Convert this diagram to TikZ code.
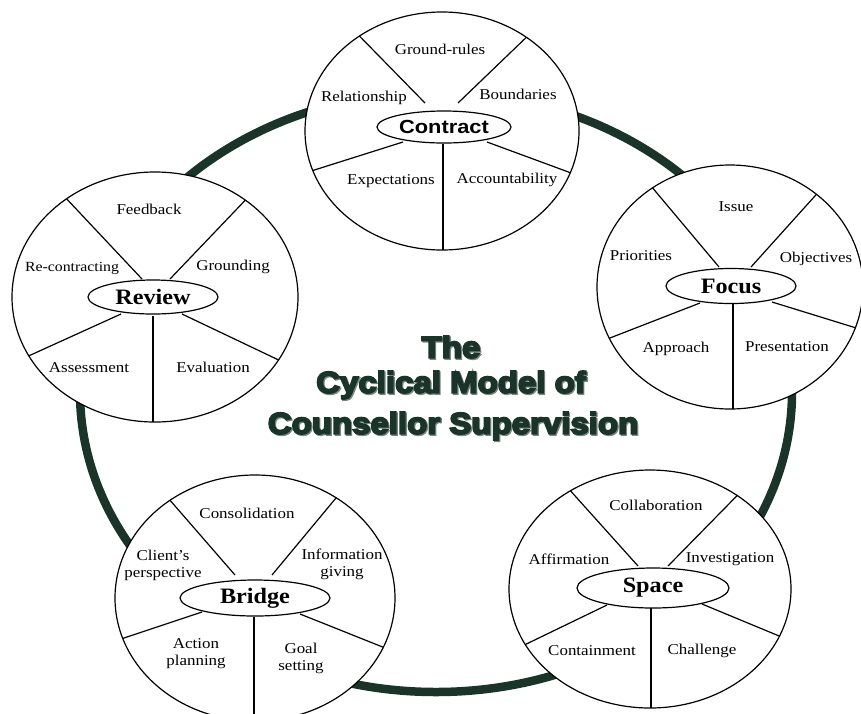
\documentclass[tikz,border=0pt]{standalone}
\usepackage{fontspec}
\setmainfont{Liberation Serif}[FakeStretch=1.13]
\newfontfamily\boldlab{Liberation Serif}[FakeStretch=1.1]
\newfontfamily\sanslab{Liberation Sans}[FakeStretch=1.15]
\newfontfamily\titlemain{Liberation Sans}[FakeStretch=1.1,FakeBold=6]
\usetikzlibrary{shapes.geometric}
\definecolor{ringgreen}{RGB}{27,52,42}
\definecolor{halo}{RGB}{120,135,128}
\begin{document}
\begin{tikzpicture}[x=1pt,y=-1pt,
  wheel/.style={ellipse, draw=black, fill=white, line width=1.2pt, inner sep=0pt, outer sep=0pt},
  hub/.style={ellipse, draw=black, fill=white, line width=1.2pt, inner sep=0pt, outer sep=0pt},
  spoke/.style={line width=1.2pt},
  part/.style={font=\fontsize{15}{17}\selectfont, align=center, inner sep=0pt},
  hubtxt/.style={font=\boldlab\bfseries\fontsize{22}{24}\selectfont, inner sep=0pt},
  ttlhalo/.style={font=\titlemain\bfseries\fontsize{30}{32}\selectfont, text=halo, inner sep=0pt},
  ttlmain/.style={font=\titlemain\bfseries\fontsize{30}{32}\selectfont, text=ringgreen, inner sep=0pt}
]
\useasboundingbox (0,0) rectangle (861,713);
\clip (0,0) rectangle (861,713);

% cycle ring
\draw[ringgreen, line width=8.5pt] (436,392) ellipse [x radius=356pt, y radius=300pt];

% ---------------- Contract ----------------
\node[wheel, minimum width=274pt, minimum height=238pt] (cW) at (442,131) {};
\coordinate (c1) at (425,103);
\coordinate (c2) at (458,103);
\coordinate (c3) at (403,142);
\coordinate (c4) at (487,142);
\coordinate (c5) at (443,144);
\draw[spoke] (c1) -- (cW.131);
\draw[spoke] (c2) -- (cW.48);
\draw[spoke] (c3) -- (cW.197);
\draw[spoke] (c4) -- (cW.342);
\draw[spoke] (c5) -- (c5 |- cW.south);
\node[hub, minimum width=134pt, minimum height=32pt] (cH) at (444,127) {};
\node[inner sep=0pt, font=\sanslab\bfseries\fontsize{19}{21}\selectfont] (cT) at (444,127) {Contract};
\node[part] (cL1) at (440,49) {Ground-rules};
\node[part] (cL2) at (364,98) {Relationship};
\node[part] (cL3) at (518,94) {Boundaries};
\node[part] (cL4) at (391,181) {Expectations};
\node[part] (cL5) at (507,180) {Accountability};

% ---------------- Focus ----------------
\node[wheel, minimum width=266pt, minimum height=244pt] (fW) at (730,287) {};
\coordinate (f1) at (719,267);
\coordinate (f2) at (751,267);
\coordinate (f3) at (700,303);
\coordinate (f4) at (772,302);
\coordinate (f5) at (733,304);
\draw[spoke] (f1) -- (fW.128);
\draw[spoke] (f2) -- (fW.47);
\draw[spoke] (f3) -- (fW.203);
\draw[spoke] (f4) -- (fW.342);
\draw[spoke] (f5) -- (f5 |- fW.south);
\node[hub, minimum width=130pt, minimum height=35pt] (fH) at (731,286) {};
\node[hubtxt] (fT) at (731,286) {Focus};
\node[part] (fL1) at (736,207) {Issue};
\node[part] (fL2) at (641,256) {Priorities};
\node[part] (fL3) at (816,259) {Objectives};
\node[part] (fL4) at (676,349) {Approach};
\node[part] (fL5) at (787,347) {Presentation};

% ---------------- Review ----------------
\node[wheel, minimum width=286pt, minimum height=250pt] (rW) at (155,297) {};
\coordinate (r1) at (142,279);
\coordinate (r2) at (170,279);
\coordinate (r3) at (121,314);
\coordinate (r4) at (182,314);
\coordinate (r5) at (153,316);
\draw[spoke] (r1) -- (rW.132);
\draw[spoke] (r2) -- (rW.47);
\draw[spoke] (r3) -- (rW.205);
\draw[spoke] (r4) -- (rW.333);
\draw[spoke] (r5) -- (r5 |- rW.south);
\node[hub, minimum width=130pt, minimum height=34pt] (rH) at (153,297) {};
\node[hubtxt] (rT) at (153,297) {Review};
\node[part] (rL1) at (149,209) {Feedback};
\node[part, font=\fontsize{14}{16}\selectfont] (rL2) at (72,268) {Re-contracting};
\node[part] (rL3) at (233,267) {Grounding};
\node[part] (rL4) at (89,368) {Assessment};
\node[part] (rL5) at (213,367) {Evaluation};

% ---------------- Bridge ----------------
\node[wheel, minimum width=280pt, minimum height=246pt] (bW) at (255,598) {};
\coordinate (b1) at (235,575);
\coordinate (b2) at (272,575);
\coordinate (b3) at (202,612);
\coordinate (b4) at (300,614);
\coordinate (b5) at (254,617);
\draw[spoke] (b1) -- (bW.131);
\draw[spoke] (b2) -- (bW.51);
\draw[spoke] (b3) -- (bW.197);
\draw[spoke] (b4) -- (bW.339);
\draw[spoke] (b5) -- (b5 |- bW.south);
\node[hub, minimum width=150pt, minimum height=36pt] (bH) at (255,598) {};
\node[hubtxt] (bT) at (255,598) {Bridge};
\node[part] (bL1) at (247,513) {Consolidation};
\node[part] (bL2) at (163,565) {Client’s\\perspective};
\node[part] (bL3) at (342,564) {Information\\giving};
\node[part] (bL4) at (196,654) {Action\\planning};
\node[part] (bL5) at (301,658) {Goal\\setting};

% ---------------- Space ----------------
\node[wheel, minimum width=282pt, minimum height=238pt] (sW) at (650,589) {};
\coordinate (s1) at (638,566);
\coordinate (s2) at (668,566);
\coordinate (s3) at (607,605);
\coordinate (s4) at (702,604);
\coordinate (s5) at (651,608);
\draw[spoke] (s1) -- (sW.129);
\draw[spoke] (s2) -- (sW.47);
\draw[spoke] (s3) -- (sW.204);
\draw[spoke] (s4) -- (sW.340);
\draw[spoke] (s5) -- (s5 |- sW.south);
\node[hub, minimum width=152pt, minimum height=40pt] (sH) at (653,588) {};
\node[hubtxt] (sT) at (653,588) {Space};
\node[part] (sL1) at (656,505) {Collaboration};
\node[part] (sL2) at (569,559) {Affirmation};
\node[part] (sL3) at (730,559) {Investigation};
\node[part] (sL4) at (592,651) {Containment};
\node[part] (sL5) at (702,651) {Challenge};

% ---------------- Title ----------------
\node[ttlhalo] (t1h) at (452.2,348.2) {The};
\node[ttlhalo] (t2h) at (452.2,386.2) {Cyclical Model of};
\node[ttlhalo] (t3h) at (454.2,427.2) {Counsellor Supervision};
\node[ttlmain] (t1) at (451,347) {The};
\node[ttlmain] (t2) at (451,385) {Cyclical Model of};
\node[ttlmain] (t3) at (453,426) {Counsellor Supervision};
\end{tikzpicture}
\end{document}
